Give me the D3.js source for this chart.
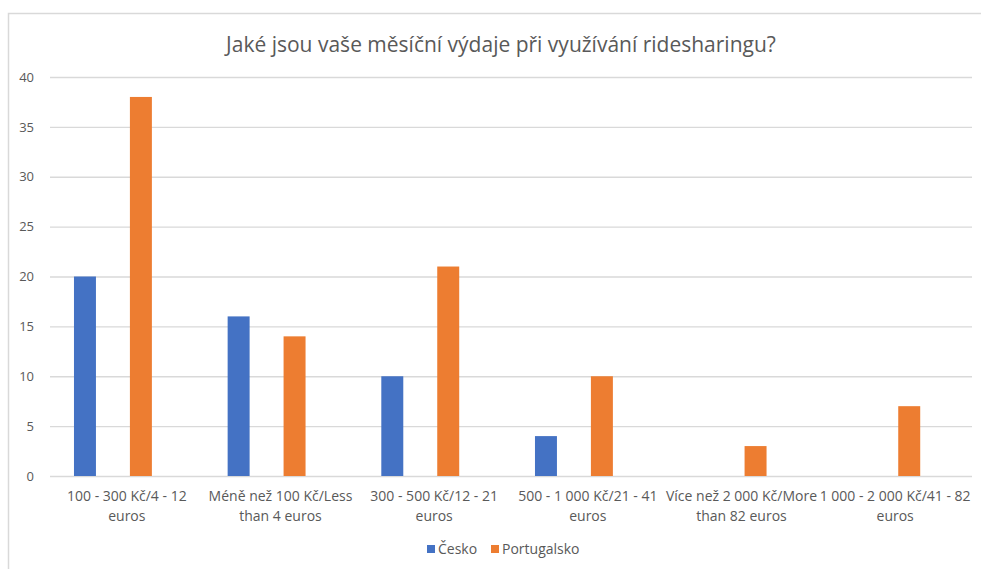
<!DOCTYPE html>
<html>
<head>
<meta charset="utf-8">
<script src="https://cdn.jsdelivr.net/npm/d3@7"></script>
<style>
  body { margin: 0; background: #fff; }
  text { font-family: "Open Sans", "Noto Sans", sans-serif; fill: #595959; }
</style>
</head>
<body>
<script>
let width = 981;
let height = 569;

let margin = {top: 77, right: 9, bottom: 93, left: 50};

let title = 'Jaké jsou vaše měsíční výdaje při využívání ridesharingu?';

// category labels, split in two lines like the original
let categories = [
    ['100 - 300 Kč/4 - 12', 'euros'],
    ['Méně než 100 Kč/Less', 'than 4 euros'],
    ['300 - 500 Kč/12 - 21', 'euros'],
    ['500 - 1 000 Kč/21 - 41', 'euros'],
    ['Více než 2 000 Kč/More', 'than 82 euros'],
    ['1 000 - 2 000 Kč/41 - 82', 'euros']
];

let seriesNames = ['Česko', 'Portugalsko'];
let cesko = [20, 16, 10, 4, 0, 0];
let portugalsko = [38, 14, 21, 10, 3, 7];

let yTicks = [0, 5, 10, 15, 20, 25, 30, 35, 40];

let colors = ['#4472C4', '#ED7D31'];

let svg = d3.select('body')
    .append('svg')
    .attr('width', width)
    .attr('height', height);

// chart area frame
svg.append('path')
    .attr('d', `M8.5,${height} V13.5 H${width}`)
    .attr('fill', 'none')
    .attr('stroke', '#d9d9d9')
    .attr('stroke-width', 1.5);

svg.append('text')
    .attr('x', 501)
    .attr('y', 52)
    .attr('text-anchor', 'middle')
    .style('font-size', '21px')
    .text(title);

let x = d3.scaleBand()
    .domain(d3.range(categories.length))
    .range([margin.left, width - margin.right]);

// two bars per category, placed like the Excel original (off-centre group)
let xSeries = d3.scaleOrdinal()
    .domain([0, 1])
    .range([0.156, 0.52]);

let barW = x.bandwidth() * 0.143;

let y = d3.scaleLinear()
    .domain([0, 40])
    .range([height - margin.bottom, margin.top]);

let yAxis = svg.append('g')
    .attr('transform', `translate(${margin.left},0)`)
    .call(d3.axisLeft(y).tickValues(yTicks).tickSize(-(width - margin.left - margin.right)).tickPadding(14));

yAxis.select('.domain').remove();
yAxis.selectAll('.tick line').attr('stroke', '#d9d9d9').attr('stroke-width', 1.3);
yAxis.selectAll('.tick text')
    .attr('fill', '#595959')
    .style('font-size', '13px')
    .style('font-family', '"Open Sans", sans-serif')
    .attr('text-anchor', 'end')
    .attr('dx', -2);

let data = [cesko, portugalsko].map((vals, s) => vals.map((v, i) => ({s: s, i: i, v: v})));

svg.append('g')
  .selectAll('g')
  .data(data)
  .enter().append('g')
    .attr('fill', (d, s) => colors[s])
  .selectAll('rect')
    .data(d => d.filter(e => e.v > 0))
  .enter().append('rect')
    .attr('x', d => x(d.i) + x.bandwidth() * xSeries(d.s))
    .attr('y', d => y(d.v))
    .attr('width', barW)
    .attr('height', d => y(0) - y(d.v));

// category labels
let labels = svg.append('g')
  .selectAll('text')
  .data(categories)
  .enter().append('text')
    .attr('text-anchor', 'middle')
    .attr('x', (d, i) => x(i) + x.bandwidth() / 2)
    .attr('y', 501)
    .style('font-size', '14px');

labels.selectAll('tspan')
    .data(d => d)
  .enter().append('tspan')
    .attr('x', function() { return d3.select(this.parentNode).attr('x'); })
    .attr('dy', (d, j) => j === 0 ? 0 : 20)
    .text(d => d);

// legend
let legendX = [427, 491];
let legend = svg.append('g')
  .selectAll('g')
  .data(seriesNames)
  .enter().append('g')
    .attr('transform', (d, i) => `translate(${legendX[i]},545)`);

legend.append('rect')
    .attr('width', 8)
    .attr('height', 8)
    .attr('fill', (d, i) => colors[i]);

legend.append('text')
    .attr('x', 11)
    .attr('y', 9)
    .style('font-size', '14px')
    .text(d => d);
</script>
</body>
</html>
